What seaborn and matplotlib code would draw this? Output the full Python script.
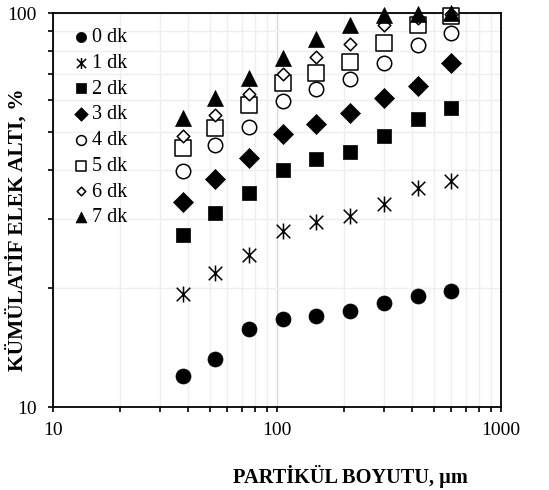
import numpy as np
import pandas as pd
import matplotlib
matplotlib.use("Agg")
import matplotlib.pyplot as plt
from matplotlib.path import Path
from matplotlib.ticker import LogLocator, NullFormatter, FixedLocator, FixedFormatter
import seaborn as sns

# ---- data ----
sizes_um = [38, 53, 75, 106, 150, 212, 300, 425, 600]
series_labels = ["0 dk", "1 dk", "2 dk", "3 dk", "4 dk", "5 dk", "6 dk", "7 dk"]
dk0 = [12.0, 13.2, 15.8, 16.75, 17.05, 17.5, 18.4, 19.1, 19.7]
dk1 = [19.4, 21.9, 24.3, 28.0, 29.4, 30.5, 32.7, 35.9, 37.5]
dk2 = [27.4, 31.1, 35.0, 40.0, 42.5, 44.5, 48.7, 53.7, 57.3]
dk3 = [33.2, 37.9, 42.9, 49.3, 52.3, 55.8, 61.0, 65.4, 74.5]
dk4 = [39.7, 46.2, 51.5, 59.9, 64.0, 67.9, 74.5, 83.0, 88.8]
dk5 = [45.4, 51.0, 58.4, 66.5, 70.6, 75.2, 83.8, 93.0, 98.5]
dk6 = [48.7, 55.1, 62.2, 70.0, 77.2, 83.3, 93.2, 97.0, 99.5]
dk7 = [54.0, 61.0, 68.5, 76.7, 85.8, 93.4, 99.0, 99.6, 100.0]
x_ticks = [10, 100, 1000]
x_tick_labels = ["10", "100", "1000"]
y_ticks = [10, 100]
y_tick_labels = ["10", "100"]

all_series = [dk0, dk1, dk2, dk3, dk4, dk5, dk6, dk7]

# star marker (vertical line + X), like Excel's star
star = Path(
    [(0, -1), (0, 1), (-0.85, -0.85), (0.85, 0.85), (-0.85, 0.85), (0.85, -0.85)],
    [Path.MOVETO, Path.LINETO, Path.MOVETO, Path.LINETO, Path.MOVETO, Path.LINETO],
)

styles = [
    dict(marker="o", s=117, color="black", edgecolor="black", linewidth=0.5),
    dict(marker=star, s=132, color="black", edgecolor="black", linewidth=1.1),
    dict(marker="s", s=94, color="black", edgecolor="black", linewidth=0.5),
    dict(marker="D", s=104, color="black", edgecolor="black", linewidth=0.5),
    dict(marker="o", s=108, color="white", edgecolor="black", linewidth=1.1),
    dict(marker="s", s=117, color="white", edgecolor="black", linewidth=1.1),
    dict(marker="D", s=41, color="white", edgecolor="black", linewidth=1.1),
    dict(marker="^", s=132, color="black", edgecolor="black", linewidth=0.5),
]

sns.set_theme(style="ticks")
plt.rcParams["font.family"] = ["Liberation Serif", "DejaVu Serif"]

fig = plt.figure(figsize=(5.49, 4.90), dpi=100)
ax = fig.add_axes([53 / 549, 1 - 407 / 490, 448 / 549, 394 / 490])

for lab, vals, st in zip(series_labels, all_series, styles):
    df = pd.DataFrame({"x": sizes_um, "y": vals})
    sns.scatterplot(data=df, x="x", y="y", ax=ax, label=lab, zorder=3,
                    clip_on=False, **st)

ax.set_xscale("log")
ax.set_yscale("log")
ax.set_xlim(10, 1000)
ax.set_ylim(10, 100)

ax.xaxis.set_major_locator(FixedLocator(x_ticks))
ax.xaxis.set_major_formatter(FixedFormatter(x_tick_labels))
ax.yaxis.set_major_locator(FixedLocator(y_ticks))
ax.yaxis.set_major_formatter(FixedFormatter(y_tick_labels))
ax.xaxis.set_minor_locator(LogLocator(base=10, subs=np.arange(2, 10)))
ax.yaxis.set_minor_locator(LogLocator(base=10, subs=np.arange(2, 10)))
ax.xaxis.set_minor_formatter(NullFormatter())
ax.yaxis.set_minor_formatter(NullFormatter())

ax.grid(True, which="major", color="#d9d9d9", linewidth=1.0, zorder=0)
ax.grid(True, which="minor", color="#efefef", linewidth=1.0, zorder=0)
ax.set_axisbelow(True)

for sp in ax.spines.values():
    sp.set_visible(True)
    sp.set_color("black")
    sp.set_linewidth(1.3)

ax.tick_params(axis="both", which="major", direction="out", length=3.5, width=1.2,
               color="black", labelsize=14, labelcolor="black")
ax.tick_params(axis="both", which="minor", direction="out", length=3.5, width=1.2,
               color="black")
ax.tick_params(axis="x", which="major", pad=7)
ax.tick_params(axis="y", which="major", pad=8)

ax.set_xlabel("PARTİKÜL BOYUTU, µm", fontsize=14.7, fontweight="bold", color="black")
ax.set_ylabel("KÜMÜLATİF ELEK ALTI, %", fontsize=15.5, fontweight="bold", color="black")
ax.xaxis.set_label_coords((350 - 53) / 448, (407 - 465) / 394)
ax.yaxis.set_label_coords((28 - 53) / 448, (407 - 230) / 394)

leg = ax.legend(loc="upper left", bbox_to_anchor=(73 / 549, 1 - 28 / 490),
                bbox_transform=fig.transFigure, frameon=False, fontsize=14.5,
                markerscale=0.68, handlelength=0.8, handletextpad=0.15,
                labelspacing=0.33, borderpad=0, borderaxespad=0)
for t in leg.get_texts():
    t.set_color("black")

fig.savefig("out.png", dpi=100, facecolor="white")
